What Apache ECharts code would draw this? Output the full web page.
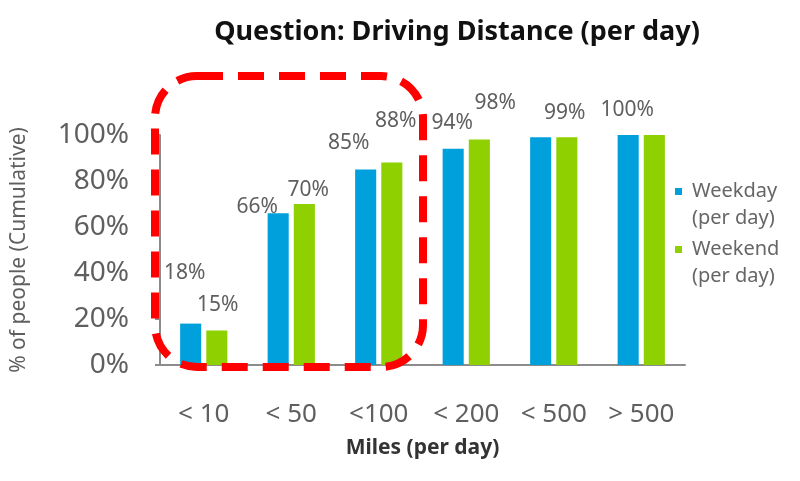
<!DOCTYPE html>
<html>
<head>
<meta charset="utf-8">
<title>Driving Distance</title>
<script src="https://cdn.jsdelivr.net/npm/echarts@6/dist/echarts.min.js"></script>
<style>
  html, body { margin: 0; padding: 0; background: #fff; }
  #chart { width: 800px; height: 481px; }
</style>
</head>
<body>
<div id="chart"></div>
<script>
// values
const categories = ['< 10', '< 50', '<100', '< 200', '< 500', '> 500'];
const weekday = [18, 66, 85, 94, 99, 100];
const weekend = [15, 70, 88, 98, 99, 100];
const seriesNames = ['Weekday (per day)', 'Weekend (per day)'];

// the labels were hand placed in the original, nudge them the same way (null = not shown)
const weekdayShift = [[-6, -35], [-21, 9], [-17, -11], [-1, -10], null, [-1, -9]];
const weekendShift = [[1, -10], [4, 2], [4, -26], [16, -21], [-2, -9], null];

const font = 'Noto Sans';
const grey = '#5f5f5f';
const blue = '#00a0dc';
const green = '#8fd000';

const withLabels = (values, shifts) => values.map((v, i) => ({
  value: v,
  label: shifts[i] ? { show: true, offset: shifts[i] } : { show: false }
}));

// one legend per series so the first text line sits level with the swatch
const legendFor = (name, top) => ({
  orient: 'vertical',
  left: 675,
  top: top,
  padding: 0,
  icon: 'rect',
  itemWidth: 7,
  itemHeight: 7,
  data: [name],
  formatter: n => '\n' + n.replace(' (', '\n('),
  textStyle: {
    fontFamily: font,
    fontSize: 20,
    lineHeight: 27,
    color: '#666',
    padding: [0, 0, 0, 5]
  }
});

const chart = echarts.init(document.getElementById('chart'));
chart.setOption({
  animation: false,
  backgroundColor: '#fff',
  title: {
    text: 'Question: Driving Distance (per day)',
    left: 452,
    top: 14,
    textAlign: 'center',
    textStyle: { fontFamily: font, fontSize: 27, fontWeight: 'bold', color: '#111' }
  },
  legend: [legendFor(seriesNames[0], 151), legendFor(seriesNames[1], 209)],
  grid: { left: 160, right: 115, top: 135, bottom: 116 },
  xAxis: {
    type: 'category',
    data: categories,
    name: 'Miles (per day)',
    nameLocation: 'middle',
    nameGap: 73,
    nameTextStyle: { fontFamily: font, fontSize: 21, fontWeight: 'bold', color: '#333' },
    axisLine: { lineStyle: { color: '#8c8c8c', width: 2 } },
    axisTick: { length: 6, lineStyle: { color: '#8c8c8c', width: 2 } },
    axisLabel: { interval: 0, fontFamily: font, fontSize: 26, color: grey, margin: 37 }
  },
  yAxis: {
    type: 'value',
    min: 0,
    max: 100,
    interval: 20,
    name: '% of people (Cumulative)',
    nameLocation: 'middle',
    nameGap: 130,
    nameTextStyle: { fontFamily: font, fontSize: 21, color: grey },
    splitLine: { show: false },
    axisLine: { show: true, lineStyle: { color: '#8c8c8c', width: 2 } },
    axisTick: { show: true, length: 5, lineStyle: { color: '#8c8c8c', width: 2 } },
    axisLabel: { fontFamily: font, fontSize: 28, color: grey, margin: 31, formatter: '{value}%' }
  },
  series: [
    {
      name: seriesNames[0],
      type: 'bar',
      barGap: '24%',
      barCategoryGap: '46%',
      itemStyle: { color: blue },
      label: { position: 'top', fontFamily: font, fontSize: 21, color: grey, formatter: '{c}%' },
      data: withLabels(weekday, weekdayShift)
    },
    {
      name: seriesNames[1],
      type: 'bar',
      itemStyle: { color: green },
      label: { position: 'top', fontFamily: font, fontSize: 21, color: grey, formatter: '{c}%' },
      data: withLabels(weekend, weekendShift)
    }
  ],
  // red dashed callout round the first three groups
  graphic: [{
    type: 'rect',
    z: 100,
    shape: { x: 155, y: 76, width: 268, height: 291, r: 42 },
    style: { fill: 'none', stroke: '#ff0000', lineWidth: 8, lineDash: [26, 15] }
  }]
});
</script>
</body>
</html>
